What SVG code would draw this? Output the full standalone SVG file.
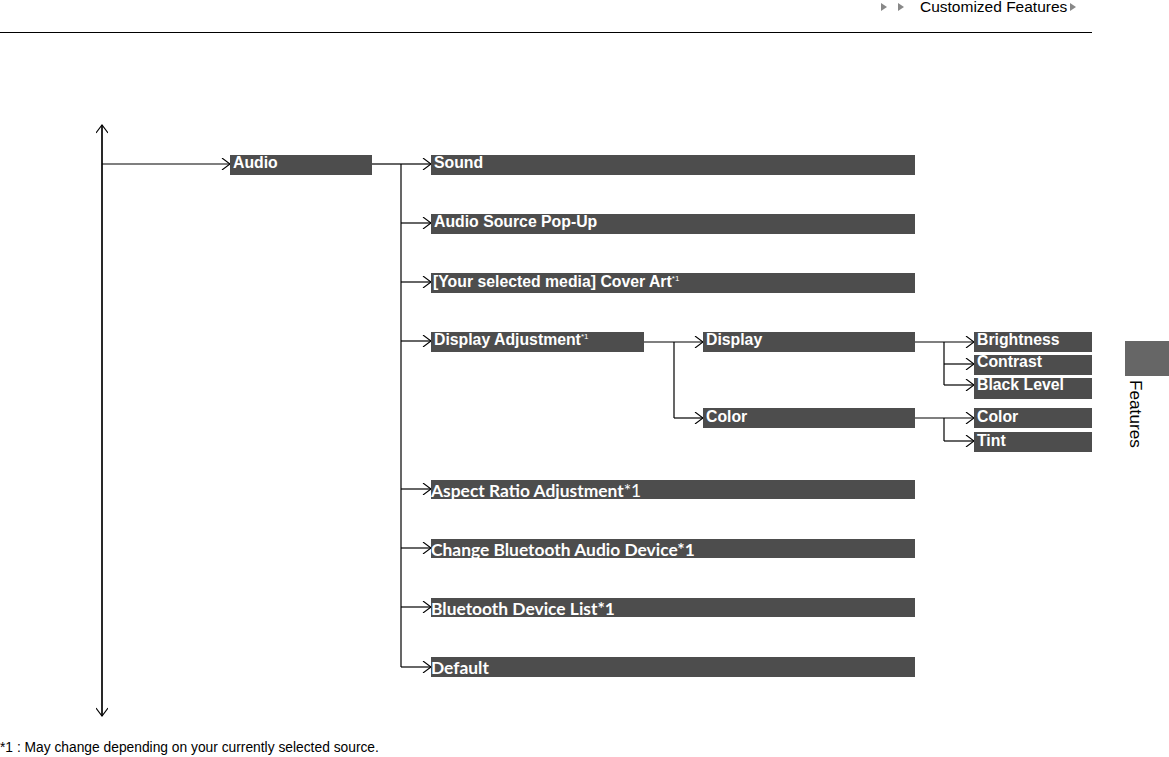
<svg xmlns="http://www.w3.org/2000/svg" width="1169" height="757" viewBox="0 0 1169 757">
<style>
.box{fill:#4d4d4d}
.t{font-family:"Liberation Sans",Arial,sans-serif;font-weight:bold;font-size:15.8px;fill:#fff}
.c{font-family:Lato,"Open Sans",sans-serif;font-weight:bold;font-size:17.4px;fill:#fff}
.sup{font-size:8px;font-weight:normal}
.ln{stroke:#000;stroke-width:1.2;fill:none}
.hd{font-family:"Liberation Sans",Arial,sans-serif;fill:#000}
</style>
<defs>
<marker id="ah" markerWidth="10" markerHeight="12" refX="9" refY="6" orient="auto" markerUnits="userSpaceOnUse">
<path d="M1,0 L9,6 L1,12" fill="none" stroke="#000" stroke-width="1.1"/>
</marker>
</defs>
<rect width="1169" height="757" fill="#fff"/>
<g id="header">
<path d="M881,3 L887,7 L881,11 Z M898,3 L904,7 L898,11 Z M1070,3 L1076,7 L1070,11 Z" fill="#888"/>
<text class="hd" x="920" y="12" font-size="15.5">Customized Features</text>
<line x1="0" y1="32.5" x2="1092" y2="32.5" stroke="#000" stroke-width="1.2"/>
</g>
<g id="connectors">
<line class="ln" x1="102" y1="716" x2="102" y2="125" marker-end="url(#ah)"/>
<line class="ln" x1="102" y1="125" x2="102" y2="716" marker-end="url(#ah)"/>
<line class="ln" x1="102" y1="164" x2="230" y2="164" marker-end="url(#ah)"/>
<line class="ln" x1="372" y1="164" x2="401" y2="164"/>
<line class="ln" x1="401" y1="164" x2="401" y2="667"/>
<line class="ln" x1="401" y1="164" x2="431" y2="164" marker-end="url(#ah)"/>
<line class="ln" x1="401" y1="223" x2="431" y2="223" marker-end="url(#ah)"/>
<line class="ln" x1="401" y1="282" x2="431" y2="282" marker-end="url(#ah)"/>
<line class="ln" x1="401" y1="341" x2="431" y2="341" marker-end="url(#ah)" stroke-width="1.8"/>
<line class="ln" x1="401" y1="489" x2="431" y2="489" marker-end="url(#ah)"/>
<line class="ln" x1="401" y1="548" x2="431" y2="548" marker-end="url(#ah)"/>
<line class="ln" x1="401" y1="607" x2="431" y2="607" marker-end="url(#ah)"/>
<line class="ln" x1="401" y1="667" x2="431" y2="667" marker-end="url(#ah)"/>
<line class="ln" x1="644" y1="342" x2="703" y2="342" marker-end="url(#ah)" stroke-width="1.8"/>
<line class="ln" x1="674" y1="342" x2="674" y2="418"/>
<line class="ln" x1="674" y1="418" x2="703" y2="418" marker-end="url(#ah)"/>
<line class="ln" x1="915" y1="342" x2="974" y2="342" marker-end="url(#ah)" stroke-width="1.8"/>
<line class="ln" x1="944" y1="342" x2="944" y2="385"/>
<line class="ln" x1="944" y1="364" x2="974" y2="364" marker-end="url(#ah)"/>
<line class="ln" x1="944" y1="385" x2="974" y2="385" marker-end="url(#ah)"/>
<line class="ln" x1="915" y1="418" x2="974" y2="418" marker-end="url(#ah)"/>
<line class="ln" x1="944" y1="418" x2="944" y2="441"/>
<line class="ln" x1="944" y1="441" x2="974" y2="441" marker-end="url(#ah)"/>
</g>
<g id="audio"><rect class="box" x="230" y="155" width="142" height="20"/><text class="t" x="233" y="168">Audio</text></g>
<g id="sound"><rect class="box" x="431" y="155" width="484" height="20"/><text class="t" x="434" y="168">Sound</text></g>
<g id="popup"><rect class="box" x="431" y="214" width="484" height="20"/><text class="t" x="434" y="227">Audio Source Pop-Up</text></g>
<g id="coverart"><rect class="box" x="431" y="273" width="484" height="20"/><text class="t" x="433" y="287">[Your selected media] Cover Art<tspan class="sup" dy="-6">*1</tspan></text></g>
<g id="dispadj"><rect class="box" x="431" y="332" width="213" height="20"/><text class="t" x="434" y="345">Display Adjustment<tspan class="sup" dy="-6">*1</tspan></text></g>
<g id="display"><rect class="box" x="703" y="332" width="212" height="20"/><text class="t" x="706" y="345">Display</text></g>
<g id="color"><rect class="box" x="703" y="408" width="212" height="20"/><text class="t" x="706" y="422">Color</text></g>
<g id="brightness"><rect class="box" x="974" y="332" width="118" height="20"/><text class="t" x="977" y="345">Brightness</text></g>
<g id="contrast"><rect class="box" x="974" y="355" width="118" height="20"/><text class="t" x="977" y="367">Contrast</text></g>
<g id="blacklevel"><rect class="box" x="974" y="378" width="118" height="21"/><text class="t" x="977" y="390">Black Level</text></g>
<g id="color2"><rect class="box" x="974" y="408" width="118" height="20"/><text class="t" x="977" y="422">Color</text></g>
<g id="tint"><rect class="box" x="974" y="432" width="118" height="20"/><text class="t" x="977" y="446">Tint</text></g>
<g id="aspect"><rect class="box" x="431" y="480" width="484" height="19"/><text class="c" x="431" y="497">Aspect Ratio Adjustment<tspan font-weight="normal">*1</tspan></text></g>
<g id="changebt"><rect class="box" x="431" y="539" width="484" height="19"/><text class="c" x="431" y="556">Change Bluetooth Audio Device*1</text></g>
<g id="btlist"><rect class="box" x="431" y="598" width="484" height="19"/><text class="c" x="431" y="615">Bluetooth Device List*1</text></g>
<g id="default"><rect class="box" x="431" y="657" width="484" height="20"/><text class="c" x="431" y="674">Default</text></g>
<g id="sidetab">
<rect x="1125" y="341" width="44" height="35" fill="#666"/>
<text class="hd" transform="translate(1130,380) rotate(90)" x="0" y="0" font-size="17.2">Features</text>
</g>
<g id="footnote"><text class="hd" x="0" y="752" font-size="13.8">*1 : May change depending on your currently selected source.</text></g>
</svg>
